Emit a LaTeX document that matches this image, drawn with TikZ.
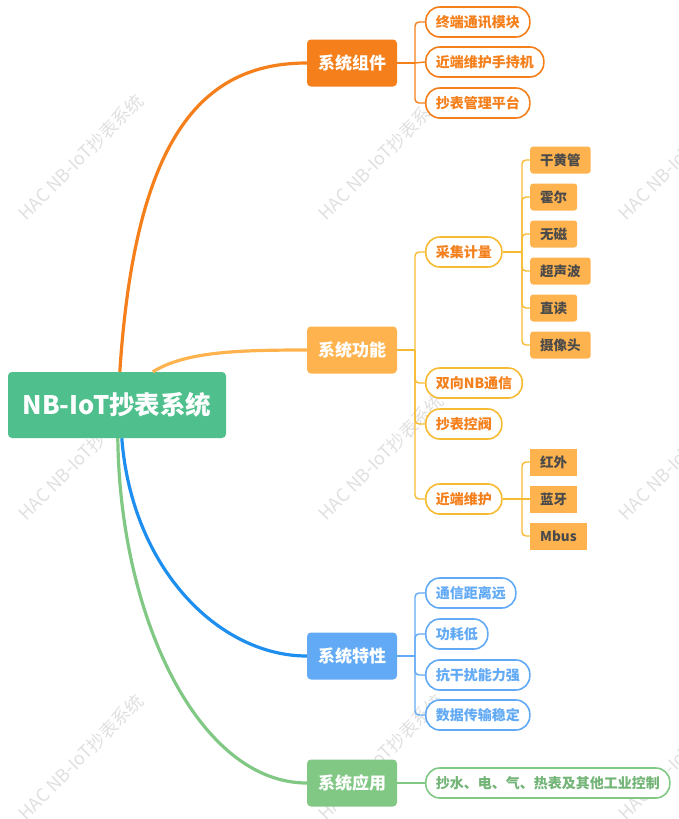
\documentclass[tikz,border=0pt]{standalone}
\usepackage{xcolor}
\usepackage{fontspec}
\setmainfont{Noto Sans CJK SC}
\usepackage{tikz}
\usetikzlibrary{calc}

\definecolor{rootGreen}{HTML}{4FC08D}
\definecolor{compOrange}{HTML}{F47F1B}
\definecolor{funcOrange}{HTML}{FFB34E}
\definecolor{funcGold}{HTML}{F7BB33}
\definecolor{featBlue}{HTML}{62AAF5}
\definecolor{featLine}{HTML}{1E8FEF}
\definecolor{appGreen}{HTML}{80C884}
\definecolor{leafText}{HTML}{4A4A4A}

\begin{document}
\begin{tikzpicture}[
        x=1pt, y=-1pt, % pixel grid of the reference, y downwards
        % --- Sizing and looks of all boxes ---
        rootbox/.style={
            rectangle, rounded corners=4pt, fill=rootGreen,
            minimum width=218pt, minimum height=66pt,
            text=white, font=\fontsize{25.5}{27}\selectfont\bfseries
        },
        topic/.style={
            rectangle, rounded corners=4pt,
            minimum width=90pt, minimum height=47pt,
            text=white, font=\fontsize{17}{19}\selectfont\bfseries
        },
        pill/.style={
            rectangle, rounded corners=14pt, draw, line width=1.6pt, fill=white,
            minimum height=30pt, inner xsep=10pt, anchor=west,
            font=\fontsize{14}{16}\selectfont\bfseries
        },
        leaf/.style={
            rectangle, rounded corners=3pt, fill=funcOrange, text=leafText,
            minimum height=27pt, inner xsep=10pt, anchor=west,
            font=\fontsize{13.5}{15}\selectfont\bfseries
        },
        sqleaf/.style={leaf, sharp corners},
        branch/.style={line width=3.2pt},
        bracket/.style={line width=1.4pt, rounded corners=4pt},
        watermark/.style={rotate=45, text=black!12, font=\fontsize{18}{20}\selectfont}
    ]
    \useasboundingbox (0,0) rectangle (679,819);

    % ==================== 0. WATERMARK ====================
    \foreach \wx in {81,381,681}
        \foreach \wy in {157,457,757}
            \node[watermark] (wm-\wx-\wy) at (\wx,\wy) {HAC NB-IoT抄表系统};

    % ==================== 1. ROOT AND TOPICS ====================
    \node[rootbox] (root) at (117,405) {NB-IoT抄表系统};

    \node[topic, fill=compOrange] (comp) at (352,63)  {系统组件};
    \node[topic, fill=funcOrange] (func) at (352,350) {系统功能};
    \node[topic, fill=featBlue]   (feat) at (352,656) {系统特性};
    \node[topic, fill=appGreen]   (app)  at (352,783) {系统应用};

    % ==================== 2. SUBTOPICS ====================
    % Components
    \node[pill, draw=compOrange, text=compOrange] (comp1) at (425,22)  {终端通讯模块};
    \node[pill, draw=compOrange, text=compOrange] (comp2) at (425,62)  {近端维护手持机};
    \node[pill, draw=compOrange, text=compOrange] (comp3) at (425,103) {抄表管理平台};

    % Functions
    \node[pill, draw=funcGold, text=compOrange] (func1) at (425,252) {采集计量};
    \node[pill, draw=funcGold, text=compOrange] (func2) at (425,383) {双向NB通信};
    \node[pill, draw=funcGold, text=compOrange] (func3) at (425,424) {抄表控阀};
    \node[pill, draw=funcGold, text=compOrange] (func4) at (425,499) {近端维护};

    % Features
    \node[pill, draw=featBlue, text=featBlue] (feat1) at (425,593) {通信距离远};
    \node[pill, draw=featBlue, text=featBlue] (feat2) at (425,634) {功耗低};
    \node[pill, draw=featBlue, text=featBlue] (feat3) at (425,675) {抗干扰能力强};
    \node[pill, draw=featBlue, text=featBlue] (feat4) at (425,715) {数据传输稳定};

    % Applications
    \node[pill, draw=appGreen, text=appGreen!90!black] (app1) at (425,783) {抄水、电、气、热表及其他工业控制};

    % ==================== 3. LEAVES ====================
    \node[leaf] (meter1) at (530,160) {干黄管};
    \node[leaf] (meter2) at (530,197) {霍尔};
    \node[leaf] (meter3) at (530,234) {无磁};
    \node[leaf] (meter4) at (530,271) {超声波};
    \node[leaf] (meter5) at (530,308) {直读};
    \node[leaf] (meter6) at (530,345) {摄像头};

    \node[sqleaf] (near1) at (530,462) {红外};
    \node[sqleaf] (near2) at (530,499) {蓝牙};
    \node[sqleaf] (near3) at (530,536) {Mbus};

    % Junctions of the brackets
    \coordinate (compJ)  at (415,63);
    \coordinate (funcJ)  at (415,350);
    \coordinate (featJ)  at (415,656);
    \coordinate (meterJ) at (522,252);
    \coordinate (nearJ)  at (522,499);

    % ==================== 4. CONNECTORS ====================
    % Curved branches from the root
    \draw[branch, compOrange] ([xshift=112pt]root.north west)
        .. controls (135,140) and (200,63) .. (comp.west);
    \draw[branch, funcOrange] ([xshift=145pt]root.north west)
        .. controls (185,352) and (235,350) .. (func.west);
    \draw[branch, featLine] ([xshift=114pt]root.south west)
        .. controls (132,570) and (220,656) .. (feat.west);
    \draw[branch, appGreen] ([xshift=110pt]root.south west)
        .. controls (120,620) and (200,783) .. (app.west);

    % Brackets to subtopics
    \draw[bracket, compOrange] (comp.east) -- (compJ);
    \draw[bracket, compOrange] (compJ) |- (comp1.west);
    \draw[bracket, compOrange] (compJ) -- (comp2.west);
    \draw[bracket, compOrange] (compJ) |- (comp3.west);

    \draw[bracket, funcGold] (func.east) -- (funcJ);
    \draw[bracket, funcGold] (funcJ) |- (func1.west);
    \draw[bracket, funcGold] (funcJ) |- (func2.west);
    \draw[bracket, funcGold] (funcJ) |- (func3.west);
    \draw[bracket, funcGold] (funcJ) |- (func4.west);

    \draw[bracket, featBlue] (feat.east) -- (featJ);
    \draw[bracket, featBlue] (featJ) |- (feat1.west);
    \draw[bracket, featBlue] (featJ) |- (feat2.west);
    \draw[bracket, featBlue] (featJ) |- (feat3.west);
    \draw[bracket, featBlue] (featJ) |- (feat4.west);

    \draw[bracket, appGreen] (app.east) -- (app1.west);

    % Brackets to leaves
    \draw[bracket, funcGold] (func1.east) -- (meterJ);
    \foreach \m in {1,...,6}
        \draw[bracket, funcGold] (meterJ) |- (meter\m.west);

    \draw[bracket, funcGold] (func4.east) -- (nearJ);
    \draw[bracket, funcGold] (nearJ) |- (near1.west);
    \draw[bracket, funcGold] (nearJ) -- (near2.west);
    \draw[bracket, funcGold] (nearJ) |- (near3.west);

\end{tikzpicture}
\end{document}
